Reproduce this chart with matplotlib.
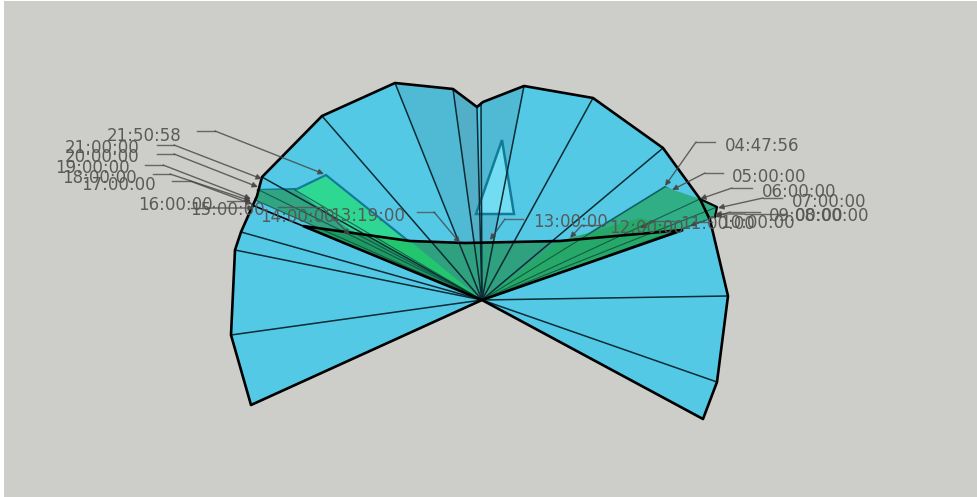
import matplotlib
matplotlib.use('Agg')
import matplotlib.pyplot as plt
from matplotlib.patches import Polygon, Rectangle

plt.rcParams['font.family'] = ['DejaVu Sans']

# radar vertices
center = (482, 300)
outer = [(703, 419), (717, 382), (728, 296), (710, 220), (700, 199), (663, 148), (593, 98),
         (524, 86), (483, 102), (477, 107), (453, 89), (395, 83), (322, 116), (262, 177),
         (257, 196), (241, 232), (235, 250), (231, 335), (251, 405)]
spoke_ends = [(703, 419), (717, 382), (728, 296), (663, 148), (593, 98), (524, 86), (481, 103),
              (477, 107), (453, 89), (395, 83), (322, 116), (262, 177), (241, 232), (235, 250),
              (231, 335), (251, 405)]
wedge_mid = [(395, 83), (453, 89)]
wedge_dark = [(453, 89), (477, 107)]
wedge_right = [(481, 103), (483, 102), (524, 86)]

bright_left = [(257, 190), (297, 189), (326, 175)]
bright_right = [(665, 187), (697, 205)]
triangle = [(502, 140), (476, 214), (514, 214)]

teal_left = [(255, 200), (259, 190), (295, 190), (353, 232)]
teal_mid = [(303, 226), (410, 241), (465, 243), (560, 241), (683, 230)]
teal_right = [(665, 187), (700, 199), (717, 207), (715, 217), (683, 230)]
green_left = [(365, 236), (410, 241)]
dark_left = [(303, 226), (365, 236)]
green_right = [(560, 241), (640, 218), (683, 230)]
tail_left = [(252, 205), (303, 226)]

# label, text x, text y, leader points
labels = [
    ('21:50:58', 107, 136, [(197, 131), (215, 131), (324, 174)]),
    ('21:00:00', 65, 148, [(157, 145), (174, 145), (262, 179)]),
    ('20:00:00', 65, 157, [(157, 154), (174, 154), (258, 187)]),
    ('19:00:00', 55, 168, [(145, 165), (163, 165), (251, 199)]),
    ('18:00:00', 62, 178, [(153, 174), (170, 174), (251, 201)]),
    ('17:00:00', 81, 185, [(172, 181), (190, 181), (252, 204)]),
    ('16:00:00', 138, 205, [(227, 201), (245, 201), (252, 204)]),
    ('15:00:00', 190, 210, [(191, 208), (209, 208), (254, 208)]),
    ('14:00:00', 260, 217, [(278, 207), (322, 207), (350, 235)]),
    ('13:19:00', 330, 216, [(417, 212), (434, 212), (460, 243)]),
    ('13:00:00', 533, 222, [(523, 219), (505, 219), (490, 240)]),
    ('12:00:00', 609, 228, [(600, 225), (582, 225), (570, 238)]),
    ('11:00:00', 680, 224, [(674, 221), (655, 221), (640, 228)]),
    ('10:00:00', 720, 223, [(712, 222), (700, 222), (690, 226)]),
    ('09:00:00', 769, 216, [(760, 212), (730, 212), (715, 217)]),
    ('08:00:00', 795, 216, [(785, 214), (745, 214), (715, 214)]),
    ('07:00:00', 792, 202, [(782, 198), (763, 198), (718, 208)]),
    ('06:00:00', 762, 192, [(752, 188), (732, 188), (700, 199)]),
    ('05:00:00', 732, 177, [(723, 173), (705, 173), (672, 190)]),
    ('04:47:56', 725, 146, [(715, 142), (696, 142), (665, 186)]),
]

fig = plt.figure(figsize=(9.78, 4.97), dpi=100, facecolor='white')
ax = fig.add_axes([0, 0, 1, 1])
ax.set_xlim(0, 978)
ax.set_ylim(497, 0)
ax.axis('off')
ax.add_patch(Rectangle((4, 1), 974, 496, color='#cdcec9', lw=0, zorder=0))

# blue series
ax.add_patch(Polygon(outer + [center], closed=True, fc='#54c9e5', ec='none', zorder=1))
ax.add_patch(Polygon([center] + wedge_mid, fc='#50b9d4', ec='none', zorder=2))
ax.add_patch(Polygon([center] + wedge_dark, fc='#53aec8', ec='none', zorder=2))
ax.add_patch(Polygon([center] + wedge_right, fc='#50b9d4', ec='none', zorder=2))

# bright series
ax.add_patch(Polygon([center] + bright_left, fc='#2fd892', ec='#127c98', lw=1.6, zorder=3))
ax.add_patch(Polygon([center] + bright_right, fc='#2fd892', ec='#127c98', lw=1.6, zorder=3))
ax.add_patch(Polygon(triangle, fc='#72dcf2', ec='#127c98', lw=1.8, zorder=3))

# dark green series
ax.add_patch(Polygon([center] + teal_left, fc='#2fa581', ec='none', zorder=4))
ax.add_patch(Polygon([center] + teal_right, fc='#30ae86', ec='none', zorder=4))
ax.add_patch(Polygon([center] + teal_mid, fc='#2fa17f', ec='none', zorder=4))
ax.add_patch(Polygon([center] + green_left, fc='#24c56f', ec='none', zorder=5))
ax.add_patch(Polygon([center] + dark_left, fc='#1f9a62', ec='none', zorder=5))
ax.add_patch(Polygon([center] + green_right, fc='#25a868', ec='none', zorder=5))

# spokes and outlines
for end in spoke_ends:
    ax.plot([center[0], end[0]], [center[1], end[1]], color='#0c2c35', lw=1.1, zorder=6)
for end in teal_left + teal_right:
    ax.plot([center[0], end[0]], [center[1], end[1]], color='#0c3c3a', lw=0.8, alpha=0.7, zorder=6)
ax.add_patch(Polygon(outer + [center], closed=True, fc='none', ec='black', lw=1.9, joinstyle='round', zorder=7))
ax.add_patch(Polygon([center] + teal_mid, fc='none', ec='black', lw=1.9, zorder=7))
ax.plot([p[0] for p in tail_left], [p[1] for p in tail_left], color='black', lw=1.2, zorder=7)
ax.plot([p[0] for p in teal_right[1:4]], [p[1] for p in teal_right[1:4]], color='black', lw=1.6, zorder=7)

# labels with leader lines
for name, tx, ty, pts in labels:
    ax.plot([p[0] for p in pts[:2]], [p[1] for p in pts[:2]], color='#555555', lw=1, alpha=0.85, zorder=8)
    ax.annotate('', xy=pts[2], xytext=pts[1], zorder=8,
                arrowprops=dict(arrowstyle='-|>', color='#444444', lw=1, alpha=0.8, mutation_scale=8, shrinkA=0, shrinkB=0))
    ax.text(tx, ty, name, fontsize=12, color='#555555', alpha=0.95, ha='left', va='center', zorder=9)

plt.savefig('out.png', dpi=100)
